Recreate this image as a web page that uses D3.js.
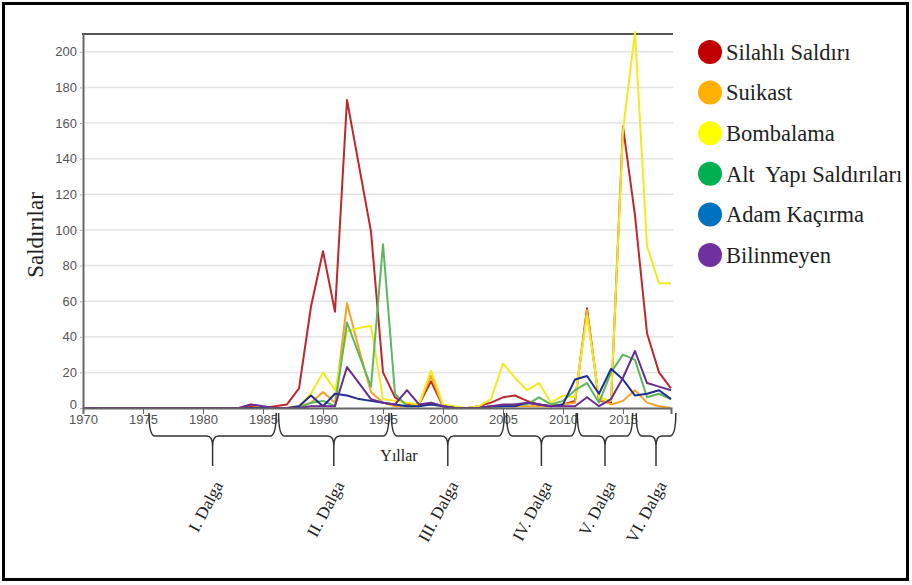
<!DOCTYPE html>
<html>
<head>
<meta charset="utf-8">
<script src="https://cdn.jsdelivr.net/npm/d3@7"></script>
<style>
  body { margin: 0; background: #fff; }
  svg { display: block; }
</style>
</head>
<body>
<svg id="chart" width="912" height="585"></svg>
<script>
// yearly attack counts, 1970 - 2019
var years = d3.range(1970, 2020);

var silahli = [0,0,0,0,0,0,0,0,0,0, 0,0,0,0,1,0,1,2,11,57,
    88,54,173,136,99,20,6,2,2,15, 1,0,0,1,3,6,7,4,2,1,
    2,4,56,4,3,158,108,42,20,11];
var suikast = [0,0,0,0,0,0,0,0,0,0, 0,0,0,0,2,0,0,0,1,3,
    9,3,59,33,9,3,1,1,2,18, 1,0,0,0,1,1,1,1,1,1,
    2,3,55,5,2,4,10,3,1,0];
var bombalama = [0,0,0,0,0,0,0,0,0,0, 0,0,0,0,0,0,0,0,1,8,
    20,10,43,45,46,5,4,3,2,21, 2,1,0,1,5,25,17,10,14,3,
    7,6,52,6,4,156,211,91,70,70];
var altyapi = [0,0,0,0,0,0,0,0,0,0, 0,0,0,0,0,0,0,0,0,3,
    4,1,48,30,12,92,8,1,1,3, 1,0,0,0,0,1,2,2,6,2,
    4,10,14,3,20,30,27,6,8,5];
var adam = [0,0,0,0,0,0,0,0,0,0, 0,0,0,0,0,0,0,0,1,7,
    1,8,7,5,4,3,2,1,1,2, 1,0,0,0,1,1,1,3,2,1,
    2,16,18,8,22,16,7,8,10,5];
var bilinmeyen = [0,0,0,0,0,0,0,0,0,0, 0,0,0,0,2,1,0,0,0,1,
    1,1,23,14,5,3,2,10,2,3, 1,0,0,0,1,2,2,3,2,1,
    1,1,6,1,5,17,32,14,12,10];

var seriesNames = ["Silahlı Saldırı", "Suikast", "Bombalama", "Alt\u00a0 Yapı Saldırıları", "Adam Kaçırma", "Bilinmeyen"];
var seriesValues = [silahli, suikast, bombalama, altyapi, adam, bilinmeyen];

var yTicks = d3.range(0, 201, 20);
var xTicks = d3.range(1970, 2016, 5);

// the six waves (start year, end year)
var waveNames = ["I. Dalga", "II. Dalga", "III. Dalga", "IV. Dalga", "V. Dalga", "VI. Dalga"];
var waveStart = [1975.5, 1986.3, 1995.7, 2005.3, 2011.2, 2016.1];
var waveEnd   = [1986.1, 1995.5, 2005.1, 2011.1, 2015.8, 2019.4];

var legendColors = ["#c00000", "#ffb000", "#ffff00", "#00b050", "#0070c0", "#7030a0"];
var lineColors   = ["#c0272d", "#f5a523", "#f2ea1e", "#5cb85c", "#1f2f8f", "#6a2c91"];

var svg = d3.select("#chart");
var serif = "'Liberation Serif', 'Times New Roman', serif";
var sans = "'Liberation Sans', Arial, sans-serif";

// outer frame
svg.append("rect")
    .attr("x", 3.5).attr("y", 3.5)
    .attr("width", 904).attr("height", 576)
    .attr("fill", "none").attr("stroke", "#000").attr("stroke-width", 3);

var x = d3.scaleLinear().domain([1970, 2019]).range([83, 671]);
var y = d3.scaleLinear().domain([0, 210]).range([408, 34]);

// grid
svg.append("g")
    .selectAll("line")
    .data(yTicks.slice(1))
    .join("line")
    .attr("x1", x(1970)).attr("x2", x(2019) + 2)
    .attr("y1", d => y(d)).attr("y2", d => y(d))
    .attr("stroke", "#e4e4e4").attr("stroke-width", 1.5);

// top border line
svg.append("line")
    .attr("x1", x(1970) - 1).attr("x2", x(2019) + 2)
    .attr("y1", y(210)).attr("y2", y(210))
    .attr("stroke", "#555").attr("stroke-width", 2);

// lines
var line = d3.line()
    .x((d, i) => x(years[i]))
    .y(d => y(d));

svg.append("g")
    .selectAll("path")
    .data(seriesValues)
    .join("path")
    .attr("d", line)
    .attr("fill", "none")
    .attr("stroke", (d, i) => lineColors[i])
    .attr("stroke-width", 2)
    .attr("stroke-linejoin", "round");

// y axis
var yAxis = svg.append("g")
    .attr("transform", "translate(" + x(1970) + ",0)")
    .call(d3.axisLeft(y).tickValues(yTicks).tickSize(3).tickSizeOuter(0));
yAxis.select(".domain").attr("stroke", "#666").attr("stroke-width", 2);
yAxis.selectAll(".tick line").attr("stroke", "#aaa");
yAxis.selectAll("text")
    .attr("font-family", sans).attr("font-size", 13).attr("fill", "#555");
yAxis.selectAll(".tick text").filter(d => d === 0).attr("dy", "0em");

// x axis
var xAxis = svg.append("g")
    .attr("transform", "translate(0," + y(0) + ")")
    .call(d3.axisBottom(x).tickValues(xTicks).tickFormat(d3.format("d")).tickSize(6).tickSizeOuter(6));
xAxis.select(".domain").attr("stroke", "#666").attr("stroke-width", 2);
xAxis.selectAll(".tick line").attr("stroke", "#666");
xAxis.selectAll("text")
    .attr("y", 6)
    .attr("font-family", sans).attr("font-size", 13).attr("fill", "#555").attr("dy", "0.8em");

// axis titles
svg.append("text")
    .attr("transform", "translate(43,235) rotate(-90)")
    .attr("text-anchor", "middle")
    .attr("font-family", serif).attr("font-size", 23).attr("fill", "#222")
    .text("Saldırılar");

svg.append("text")
    .attr("x", 399).attr("y", 461)
    .attr("text-anchor", "middle")
    .attr("font-family", serif).attr("font-size", 16).attr("fill", "#222")
    .text("Yıllar");

// braces under the axis
var braceTop = 413, braceMid = 436, braceTip = 466;
function bracePath(i) {
    var x0 = x(waveStart[i]), x1 = x(waveEnd[i]), xm = (x0 + x1) / 2, r = 6;
    return "M" + x0 + "," + braceTop +
        "Q" + x0 + "," + braceMid + " " + (x0 + r) + "," + braceMid +
        "L" + (xm - r) + "," + braceMid +
        "Q" + xm + "," + braceMid + " " + xm + "," + (braceMid + 10) +
        "L" + xm + "," + braceTip +
        "M" + xm + "," + (braceMid + 10) +
        "Q" + xm + "," + braceMid + " " + (xm + r) + "," + braceMid +
        "L" + (x1 - r) + "," + braceMid +
        "Q" + x1 + "," + braceMid + " " + x1 + "," + braceTop;
}

svg.append("g")
    .selectAll("path")
    .data(waveNames)
    .join("path")
    .attr("d", (d, i) => bracePath(i))
    .attr("fill", "none")
    .attr("stroke", "#333")
    .attr("stroke-width", 1.5);

svg.append("g")
    .selectAll("text")
    .data(waveNames)
    .join("text")
    .attr("transform", (d, i) => {
        var xm = (x(waveStart[i]) + x(waveEnd[i])) / 2;
        return "translate(" + (xm + 11) + "," + 485 + ") rotate(-62)";
    })
    .attr("text-anchor", "end")
    .attr("font-family", serif).attr("font-size", 17).attr("fill", "#222")
    .text(d => d);

// legend
var legend = svg.append("g")
    .selectAll("g")
    .data(seriesNames)
    .join("g")
    .attr("transform", (d, i) => "translate(710," + (52 + i * 40.6) + ")");

legend.append("circle")
    .attr("r", 12)
    .attr("fill", (d, i) => legendColors[i]);

legend.append("text")
    .attr("x", 16).attr("dy", "0.35em")
    .attr("font-family", serif).attr("font-size", 22.5).attr("fill", "#222")
    .text(d => d);
</script>
</body>
</html>
